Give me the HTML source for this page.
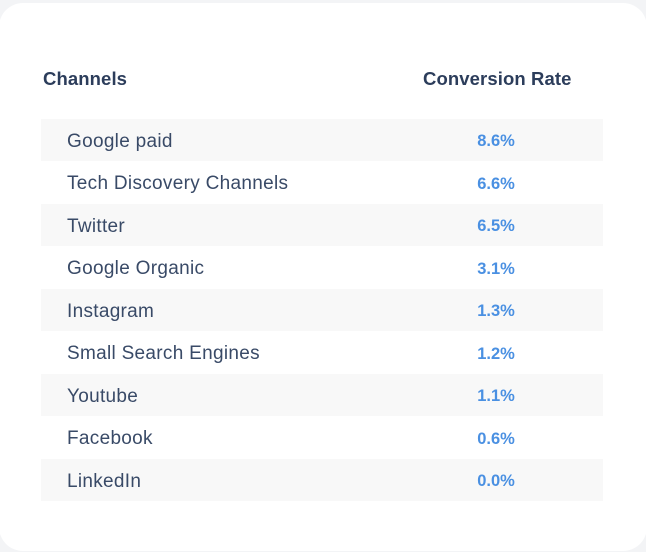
<!DOCTYPE html>
<html>
<head>
<meta charset="utf-8">
<style>
  html, body { margin:0; padding:0; }
  body { width:646px; height:552px; background:#f3f4f6; position:relative; overflow:hidden;
         font-family:"Liberation Sans", Arial, sans-serif; }
  .card { position:absolute; left:-1px; top:3px; width:648px; height:548px; background:#ffffff; border-radius:24px; }
  .h { position:absolute; top:68px; font-size:18.5px; font-weight:bold; color:#2c3d5b; line-height:22px; white-space:nowrap; letter-spacing:0.1px; }
  .row { position:absolute; left:41px; width:562px; height:42px; }
  .row.g { background:#f8f8f8; }
  .name { position:absolute; left:26px; top:1.5px; line-height:42px; font-size:19px; letter-spacing:0.3px; color:#394a67; white-space:nowrap; }
  .val { position:absolute; left:414px; width:82px; text-align:center; top:1px; line-height:42px; font-size:16.5px; font-weight:bold; color:#4a90e2; }
</style>
</head>
<body>
<div class="card"></div>
<div class="h" style="left:43px;">Channels</div>
<div class="h" style="left:423px;">Conversion Rate</div>

<div class="row g" style="top:119px;"><div class="name">Google paid</div><div class="val">8.6%</div></div>
<div class="row" style="top:161.5px;"><div class="name">Tech Discovery Channels</div><div class="val">6.6%</div></div>
<div class="row g" style="top:204px;"><div class="name">Twitter</div><div class="val">6.5%</div></div>
<div class="row" style="top:246.5px;"><div class="name">Google Organic</div><div class="val">3.1%</div></div>
<div class="row g" style="top:289px;"><div class="name">Instagram</div><div class="val">1.3%</div></div>
<div class="row" style="top:331.5px;"><div class="name">Small Search Engines</div><div class="val">1.2%</div></div>
<div class="row g" style="top:374px;"><div class="name">Youtube</div><div class="val">1.1%</div></div>
<div class="row" style="top:416.5px;"><div class="name">Facebook</div><div class="val">0.6%</div></div>
<div class="row g" style="top:459px;"><div class="name">LinkedIn</div><div class="val">0.0%</div></div>
</body>
</html>
